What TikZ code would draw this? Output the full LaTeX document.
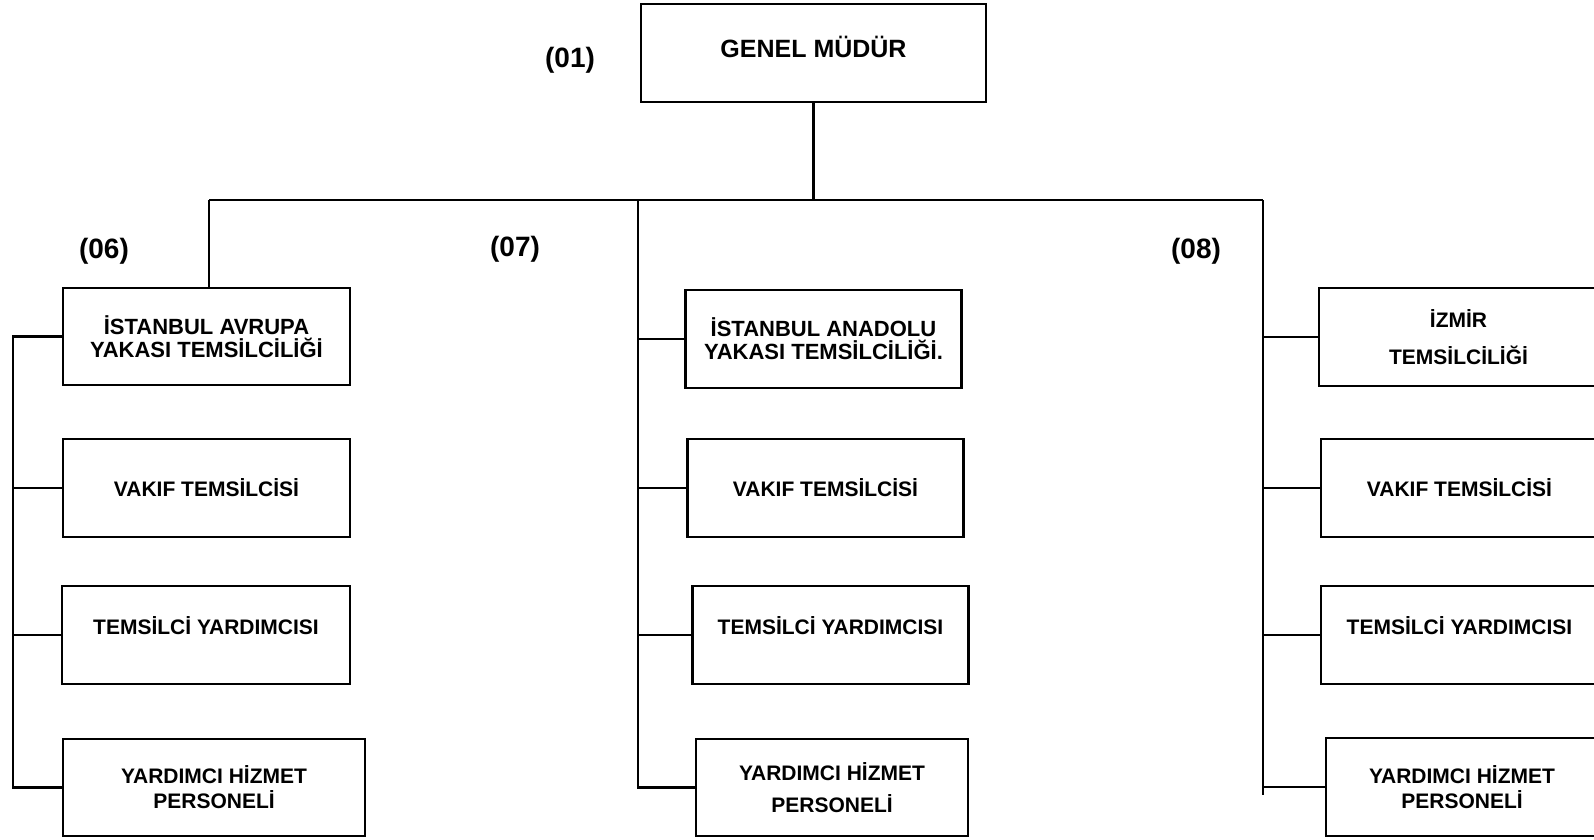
\documentclass[tikz,border=0pt]{standalone}
\usepackage{fontspec}
\setmainfont{Liberation Sans}
\usetikzlibrary{calc}
\tikzstyle{orgbox}=[draw, rectangle, line width=2.3pt, inner sep=0pt, align=center, minimum height=98pt, font=\bfseries\fontsize{21pt}{25pt}\selectfont]
\tikzstyle{cityfont}=[font=\bfseries\fontsize{22pt}{23pt}\selectfont]
\tikzstyle{unitno}=[font=\bfseries\fontsize{28pt}{30pt}\selectfont]
\tikzstyle{link}=[line width=2.3pt]
\newcommand{\orgW}{287pt}
\newcommand{\sideW}{276pt}

\begin{document}
\begin{tikzpicture}[x=1pt,y=-1pt]
\useasboundingbox (0,0) rectangle (1594,839);
% top
\node[orgbox, minimum width=345pt, text height=18pt, text depth=10pt, font=\bfseries\fontsize{25pt}{28pt}\selectfont] (gm) at (813.5,53) {GENEL MÜDÜR};
\node[unitno] (n01) at (570,60) {(01)};
\node[unitno] (n06) at (104,251) {(06)};
\node[unitno] (n07) at (515,249) {(07)};
\node[unitno] (n08) at (1196,251) {(08)};
% left column
\node[orgbox, cityfont, minimum width=\orgW, minimum height=97pt] (l1) at (206.5,336.5) {İSTANBUL AVRUPA\\YAKASI TEMSİLCİLİĞİ};
\node[orgbox, minimum width=\orgW] (l2) at (206.5,488) {VAKIF TEMSİLCİSİ};
\node[orgbox, minimum width=288pt, text height=15pt, text depth=16pt] (l3) at (206,635) {TEMSİLCİ YARDIMCISI};
\node[orgbox, minimum width=302pt, minimum height=97pt] (l4) at (214,787.5) {YARDIMCI HİZMET\\PERSONELİ};
% middle column
\node[orgbox, cityfont, minimum width=\sideW] (m1) at (823.5,339) {İSTANBUL ANADOLU\\YAKASI TEMSİLCİLİĞİ.};
\node[orgbox, minimum width=\sideW] (m2) at (825.5,488) {VAKIF TEMSİLCİSİ};
\node[orgbox, minimum width=\sideW, text height=15pt, text depth=16pt] (m3) at (830.5,635) {TEMSİLCİ YARDIMCISI};
\node[orgbox, minimum width=272pt, minimum height=97pt] (m4) at (832,787.5) {YARDIMCI HİZMET\\[7pt]PERSONELİ};
% right column
\node[orgbox, minimum width=279pt] (r1) at (1458.5,337) {İZMİR\\[12pt]TEMSİLCİLİĞİ};
\node[orgbox, minimum width=277pt] (r2) at (1459.5,488) {VAKIF TEMSİLCİSİ};
\node[orgbox, minimum width=277pt, text height=15pt, text depth=16pt] (r3) at (1459.5,635) {TEMSİLCİ YARDIMCISI};
\node[orgbox, minimum width=272pt] (r4) at (1462,787) {YARDIMCI HİZMET\\PERSONELİ};
% bus
\coordinate (busL) at (209,200);
\coordinate (busM) at (638,200);
\coordinate (busR) at (1263,200);
\coordinate (spL) at (13,0);
\coordinate (endR) at (1263,795);
\draw[link] (gm.south) -- (gm.south |- busL);
\draw[link] (busL) -- (busR);
\draw[link] (busL) -- (busL |- l1.north);
% spines
\draw[link] (l1.west) -- (l1.west -| spL) -- (l4.west -| spL) -- (l4.west);
\draw[link] (busM) -- (busM |- m4.west) -- (m4.west);
\draw[link] (busR) -- (endR);
\foreach \n in {l2,l3} \draw[link] (\n.west) -- (\n.west -| spL);
\foreach \n in {m1,m2,m3} \draw[link] (\n.west) -- (\n.west -| busM);
\foreach \n in {r1,r2,r3,r4} \draw[link] (\n.west) -- (\n.west -| busR);
\end{tikzpicture}
\end{document}
